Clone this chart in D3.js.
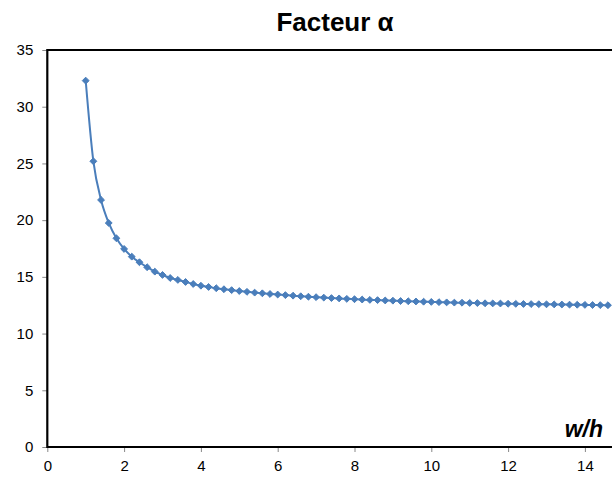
<!DOCTYPE html>
<html><head><meta charset="utf-8">
<script src="https://cdn.jsdelivr.net/npm/d3@7"></script>
<style>body{margin:0;background:#fff}svg{display:block}text{font-family:"Liberation Sans",Arial,sans-serif}</style>
</head><body>
<svg id="c" width="612" height="477"></svg>
<script>
const title = "Facteur α";
const xLabel = "w/h";
const xValues = [1.0,1.2,1.4,1.6,1.8,2.0,2.2,2.4,2.6,2.8,3.0,3.2,3.4,3.6,3.8,4.0,4.2,4.4,4.6,4.8,5.0,5.2,5.4,5.6,5.8,6.0,6.2,6.4,6.6,6.8,7.0,7.2,7.4,7.6,7.8,8.0,8.2,8.4,8.6,8.8,9.0,9.2,9.4,9.6,9.8,10.0,10.2,10.4,10.6,10.8,11.0,11.2,11.4,11.6,11.8,12.0,12.2,12.4,12.6,12.8,13.0,13.2,13.4,13.6,13.8,14.0,14.2,14.4,14.6];
const alphaValues = [32.30,25.19,21.78,19.75,18.40,17.46,16.78,16.29,15.85,15.46,15.17,14.90,14.73,14.55,14.37,14.22,14.11,14.00,13.91,13.83,13.75,13.68,13.61,13.55,13.49,13.44,13.39,13.34,13.29,13.25,13.21,13.17,13.13,13.10,13.06,13.03,13.00,12.97,12.95,12.92,12.90,12.87,12.85,12.83,12.81,12.79,12.77,12.75,12.73,12.72,12.70,12.69,12.67,12.66,12.65,12.63,12.62,12.61,12.60,12.59,12.58,12.57,12.56,12.55,12.54,12.53,12.52,12.51,12.50];
const xTicks = [0,2,4,6,8,10,12,14];
const yTicks = [0,5,10,15,20,25,30,35];

const data = xValues.map((x,i)=>({x, y: alphaValues[i]}));
const svg = d3.select("#c");
const mLeft = 47.3, mTop = 50, mBottom = 447;
const x = d3.scaleLinear().domain([0,16]).range([mLeft, mLeft + 16*38.4]);
const y = d3.scaleLinear().domain([0,35]).range([mBottom, mTop]);

svg.append("rect").attr("width",612).attr("height",477).attr("fill","#fff");

// axes
const xa = svg.append("g").attr("transform",`translate(0,${mBottom})`)
  .call(d3.axisBottom(x).tickValues(xTicks).tickSize(5).tickPadding(8).tickFormat(d3.format("d")));
const ya = svg.append("g").attr("transform",`translate(${mLeft},0)`)
  .call(d3.axisLeft(y).tickValues(yTicks).tickSize(5).tickPadding(9).tickFormat(d3.format("d")));
[xa,ya].forEach(g=>{
  g.select(".domain").remove();
  g.selectAll(".tick line").attr("stroke","#888").attr("stroke-width",1);
  g.selectAll(".tick text").attr("font-size",15).attr("fill","#000").attr("font-family","Liberation Sans, Arial, sans-serif");
});
// frame
svg.append("line").attr("x1",mLeft).attr("x2",700).attr("y1",mTop).attr("y2",mTop).attr("stroke","#000").attr("stroke-width",2.2);
svg.append("line").attr("x1",mLeft).attr("x2",mLeft).attr("y1",mTop-1.1).attr("y2",mBottom+1.1).attr("stroke","#000").attr("stroke-width",2.2);
svg.append("line").attr("x1",mLeft).attr("x2",700).attr("y1",mBottom).attr("y2",mBottom).attr("stroke","#000").attr("stroke-width",2.2);

// series
const line = d3.line().x(d=>x(d.x)).y(d=>y(d.y)).curve(d3.curveMonotoneX);
svg.append("path").datum(data).attr("d",line).attr("fill","none").attr("stroke","#4A7EBB").attr("stroke-width",2);
const sym = d3.symbol().type(d3.symbolDiamond2).size(30);
svg.append("g").selectAll("path").data(data).join("path")
  .attr("transform",d=>`translate(${x(d.x)},${y(d.y)})`)
  .attr("d",sym).attr("fill","#4A7EBB").attr("stroke","#4A7EBB").attr("stroke-width",1);

// titles
svg.append("text").attr("x",335).attr("y",31).attr("text-anchor","middle")
  .attr("font-size",26).attr("font-weight","bold").text(title);
svg.append("text").attr("x",603).attr("y",437).attr("text-anchor","end")
  .attr("font-size",23).attr("font-weight","bold").attr("font-style","italic").text(xLabel);
</script>
</body></html>
